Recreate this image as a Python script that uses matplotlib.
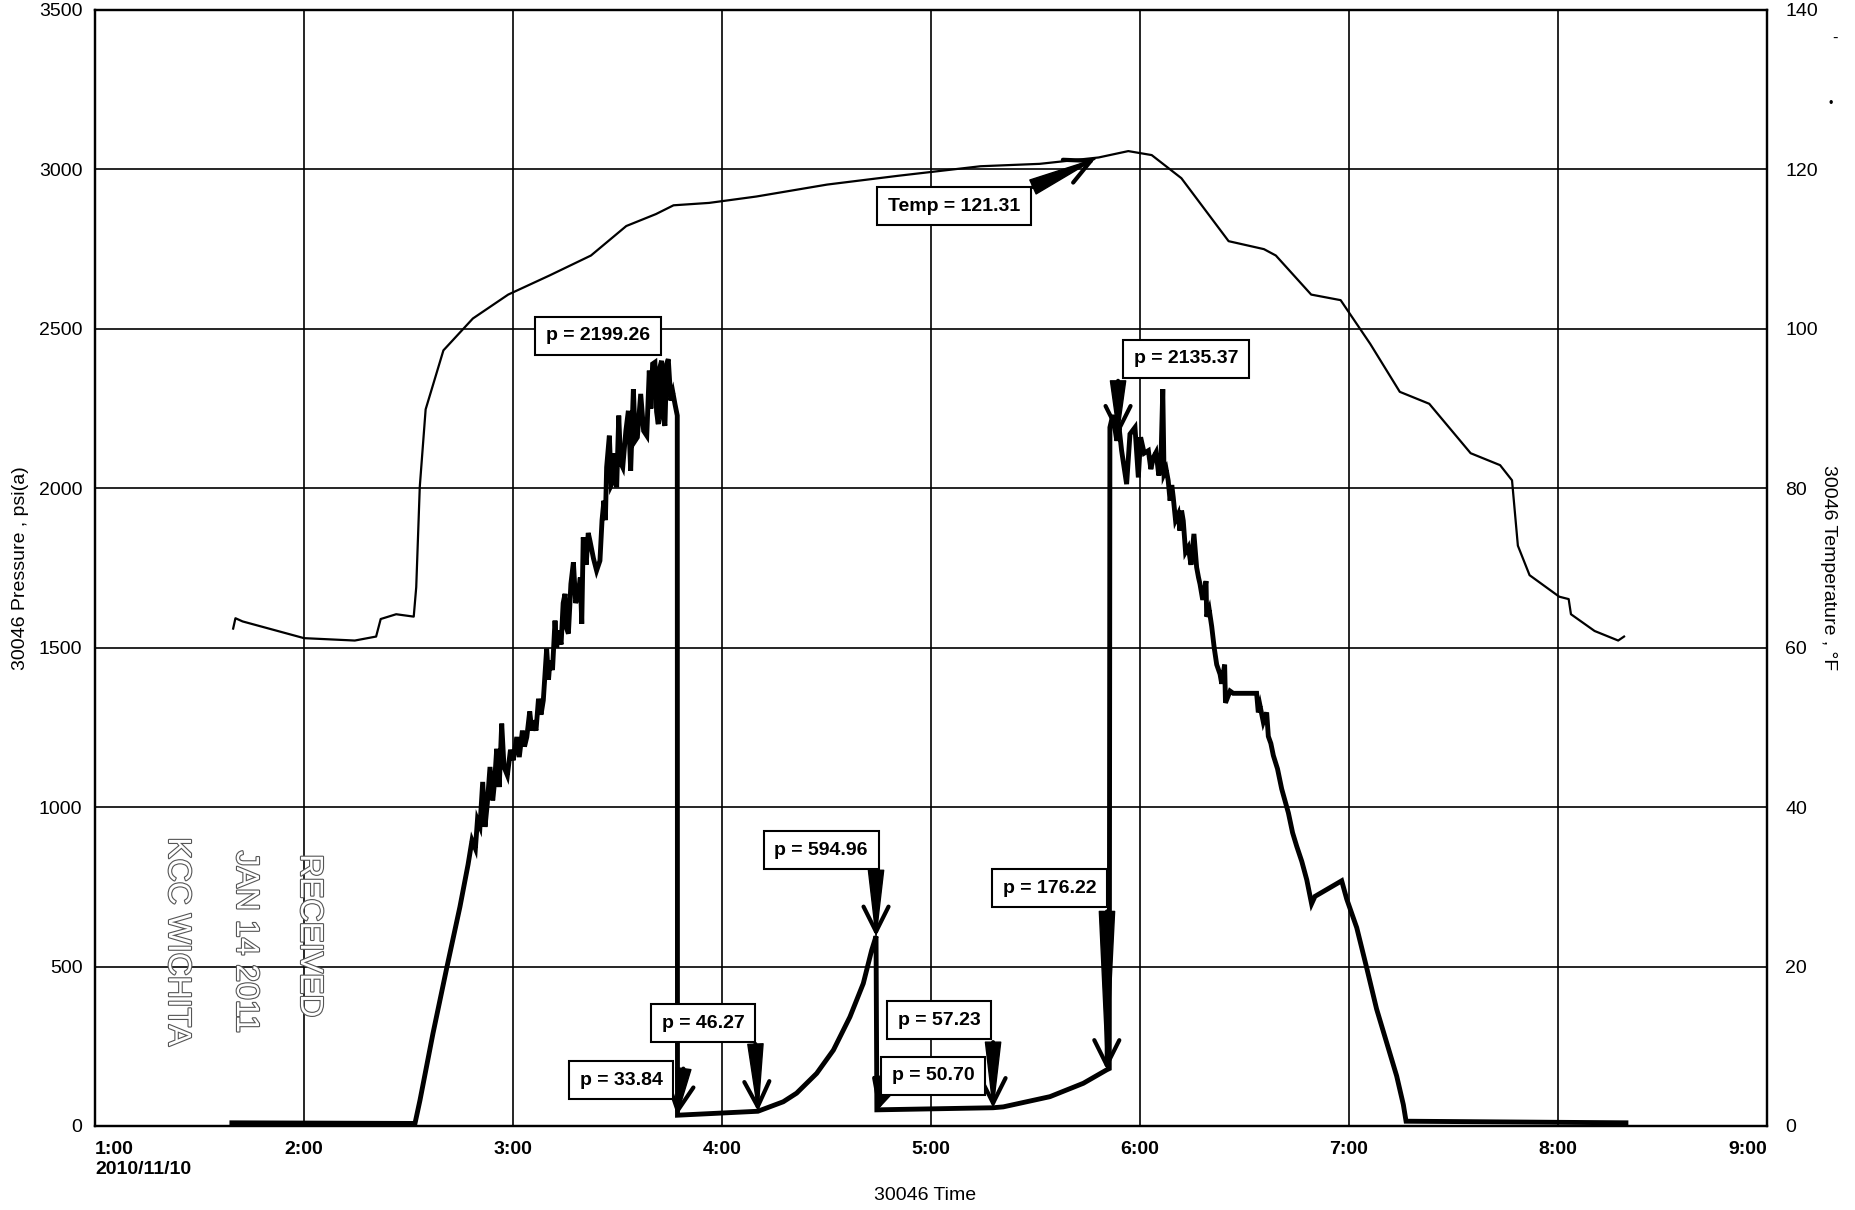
import matplotlib
matplotlib.use("Agg")
import matplotlib.pyplot as plt
import matplotlib.patheffects as pe
import numpy as np

plt.rcParams['font.family'] = ['Liberation Sans', 'DejaVu Sans']

# ---- data (time in hours of 2010/11/10) ----
# temperature, degF
temp_time = [1.661, 1.672, 1.706, 2.0, 2.243, 2.345, 2.367, 2.441, 2.525, 2.537,
             2.554, 2.582, 2.667, 2.808, 2.977, 3.175, 3.373, 3.542, 3.684, 3.768,
             3.938, 4.164, 4.503, 4.842, 5.237, 5.52, 5.802, 5.944, 6.056, 6.198,
             6.424, 6.593, 6.65, 6.819, 6.96, 7.102, 7.243, 7.384, 7.582, 7.723,
             7.78, 7.808, 7.864, 8.006, 8.051, 8.062, 8.175, 8.288, 8.316]
temp_val = [62.4, 63.7, 63.3, 61.2, 60.9, 61.4, 63.6, 64.2, 63.9, 67.6,
            80.2, 89.9, 97.3, 101.3, 104.3, 106.7, 109.2, 112.9, 114.4, 115.5,
            115.8, 116.6, 118.1, 119.2, 120.4, 120.7, 121.5, 122.3, 121.8, 118.9,
            111.0, 110.0, 109.2, 104.3, 103.6, 98.1, 92.1, 90.6, 84.4, 82.9,
            81.0, 72.8, 69.1, 66.4, 66.1, 64.2, 62.1, 60.9, 61.4]

# pressure, psi(a), read segment by segment
idle1_time = [1.655, 2.531]
idle1_psi = [10, 8]

build1_time = [2.555, 2.617, 2.684, 2.746, 2.785, 2.804, 2.820, 2.830, 2.842, 2.855,
               2.866, 2.877, 2.890, 2.903, 2.912, 2.922, 2.934, 2.946, 2.957, 2.973,
               2.988, 3.001, 3.018, 3.030, 3.045, 3.055, 3.066, 3.080, 3.090, 3.097,
               3.110, 3.122, 3.134, 3.145, 3.161, 3.170, 3.177, 3.189, 3.201, 3.209,
               3.217, 3.230, 3.240, 3.249, 3.257, 3.265, 3.277, 3.289, 3.300, 3.312,
               3.322, 3.329, 3.336, 3.350, 3.360, 3.368, 3.385, 3.400, 3.416, 3.426,
               3.435, 3.442, 3.448, 3.461, 3.470, 3.480, 3.488, 3.496, 3.506, 3.515,
               3.525, 3.540, 3.552, 3.563, 3.576, 3.585, 3.595, 3.611, 3.625, 3.640,
               3.652, 3.660, 3.668, 3.679, 3.687, 3.695, 3.703, 3.711, 3.719, 3.727,
               3.735, 3.743, 3.755, 3.765, 3.775, 3.786]
build1_psi = [81, 290, 499, 687, 820, 896, 870, 960, 940, 1079,
              938, 1011, 1126, 1021, 1080, 1183, 1063, 1262, 1126, 1100,
              1180, 1147, 1220, 1157, 1240, 1190, 1220, 1300, 1240, 1272,
              1240, 1340, 1290, 1335, 1497, 1400, 1460, 1430, 1585, 1500,
              1554, 1510, 1640, 1669, 1560, 1544, 1700, 1768, 1640, 1669,
              1720, 1575, 1846, 1760, 1860, 1836, 1780, 1742, 1773, 1900,
              1961, 1900, 2066, 2165, 2010, 2024, 2110, 2003, 2228, 2080,
              2066, 2180, 2243, 2055, 2311, 2150, 2160, 2296, 2180, 2165,
              2369, 2250, 2390, 2395, 2240, 2201, 2380, 2400, 2220, 2196,
              2390, 2405, 2275, 2300, 2264, 2228]

bleed1_time = [3.787, 4.172, 4.293, 4.357, 4.453, 4.533, 4.612, 4.676, 4.716, 4.737]
bleed1_psi = [33.84, 46.27, 76, 103, 165, 238, 342, 447, 551, 594.96]

bleed2_time = [4.741, 5.297, 5.346, 5.569, 5.729, 5.841]
bleed2_psi = [50.70, 57.23, 60, 92, 134, 176.22]

build2_time = [5.853, 5.856, 5.870, 5.889, 5.900, 5.912, 5.936, 5.952, 5.976, 5.992,
               6.003, 6.020, 6.040, 6.052, 6.064, 6.077, 6.090, 6.100, 6.109, 6.115,
               6.125, 6.135, 6.144, 6.152, 6.159, 6.170, 6.183, 6.191, 6.199, 6.207,
               6.218, 6.231, 6.244, 6.258, 6.271, 6.280, 6.287, 6.300, 6.316, 6.319,
               6.331, 6.343, 6.355, 6.367, 6.383, 6.391, 6.405, 6.409, 6.431, 6.446,
               6.558, 6.566, 6.574, 6.590, 6.606, 6.614, 6.626, 6.638, 6.658, 6.678,
               6.694, 6.710, 6.730, 6.750, 6.774, 6.798, 6.821, 6.837, 6.965, 6.989,
               7.037, 7.085, 7.132, 7.180, 7.228, 7.260, 7.273]
build2_psi = [180, 2191, 2230, 2149, 2190, 2118, 2013, 2170, 2191, 2034,
              2160, 2110, 2118, 2060, 2097, 2113, 2040, 2080, 2311, 2045,
              2060, 2024, 1961, 2010, 1972, 1900, 1919, 1867, 1930, 1898,
              1800, 1815, 1760, 1857, 1752, 1720, 1700, 1650, 1709, 1597,
              1620, 1567, 1500, 1447, 1417, 1387, 1447, 1327, 1364, 1357,
              1357, 1297, 1319, 1267, 1297, 1222, 1200, 1162, 1120, 1057,
              1020, 982, 920, 877, 830, 772, 697, 720, 769, 712,
              622, 495, 367, 262, 157, 67, 15]

idle2_time = [8.325]
idle2_psi = [10]

tick_hours = [1, 2, 3, 4, 5, 6, 7, 8, 9]
tick_labels = ['1:00\n2010/11/10', '2:00', '3:00', '4:00', '5:00', '6:00', '7:00', '8:00', '9:00']

# annotated readings
note_labels = ['p = 2199.26', 'p = 2135.37', 'p = 594.96', 'p = 176.22',
               'p = 46.27', 'p = 33.84', 'p = 57.23', 'p = 50.70']
note_tip_time = [None, 5.895, 4.737, 5.841, 4.172, 3.785, 5.297, 4.746]
note_tip_psi = [None, 2165, 594.96, 176.22, 46.27, 33.84, 57.23, 50.70]
temp_note_label = 'Temp = 121.31'
temp_note_time = 5.785
temp_note_val = 121.31

# ---- layout of the boxes (box centre and arrow start, data units) ----
note_box = [(3.407, 2478), (6.22, 2406), (4.474, 865), (5.569, 746),
            (3.909, 323), (3.517, 144), (5.038, 332), (5.01, 157)]
note_start = [None, (5.895, 2337), (4.737, 802), (5.842, 673),
              (4.160, 257), (3.815, 180), (5.297, 263), (4.790, 150)]

pres_time = idle1_time + build1_time + bleed1_time + bleed2_time + build2_time + idle2_time
pres_psi = idle1_psi + build1_psi + bleed1_psi + bleed2_psi + build2_psi + idle2_psi

W, H = 1856, 1210
fig = plt.figure(figsize=(W / 100, H / 100), dpi=100)
L, R, T, B = 95, 1767, 10, 1126
ax = fig.add_axes([L / W, 1 - B / H, (R - L) / W, (B - T) / H])
ax2 = ax.twinx()

ax.plot(pres_time, pres_psi, color='black', lw=3.5, solid_joinstyle='miter', zorder=3)
ax2.plot(temp_time, temp_val, color='black', lw=1.6, zorder=3)

ax.set_xlim(1, 9)
ax.set_ylim(0, 3500)
ax2.set_ylim(0, 140)
ax.set_yticks(np.arange(0, 3501, 500))
ax2.set_yticks(np.arange(0, 141, 20))
ax.set_xticks(tick_hours)
ax.set_xticklabels(tick_labels, fontsize=14, fontweight='bold')
xl = ax.get_xticklabels()
xl[0].set_ha('left')
xl[0].set_multialignment('left')
xl[-1].set_ha('right')
ax.tick_params(axis='y', length=0, labelsize=14, pad=9)
ax.tick_params(axis='x', length=0, pad=11)
ax2.tick_params(axis='y', length=0, labelsize=14, pad=13)
ax.grid(True, color='black', lw=1.2)
ax.set_axisbelow(True)
for a in (ax, ax2):
    for s in a.spines.values():
        s.set_linewidth(1.6)
        s.set_color('black')

fig.text(21 / W, 1 - 568 / H, '30046 Pressure , psi(a)', rotation=90,
         ha='center', va='center', fontsize=14)
fig.text(1829 / W, 1 - 568 / H, '30046 Temperature , \u00b0F', rotation=-90,
         ha='center', va='center', fontsize=14)
fig.text(925 / W, 1 - 1196 / H, '30046 Time', ha='center', va='center', fontsize=14)


def draw_arrow(axis, start, tip, trans):
    axis.annotate('', xy=tip, xytext=start, xycoords=trans, textcoords=trans,
                  arrowprops=dict(arrowstyle='wedge,tail_width=0.55,shrink_factor=0.5',
                                  fc='black', ec='black', shrinkA=0, shrinkB=0,
                                  mutation_scale=20), zorder=4)
    axis.annotate('', xy=tip, xytext=start, xycoords=trans, textcoords=trans,
                  arrowprops=dict(arrowstyle='->,head_length=0.9,head_width=0.45',
                                  color='black', lw=3, shrinkA=0, shrinkB=0,
                                  mutation_scale=20), zorder=4)


box_style = dict(boxstyle='square,pad=0.55', fc='white', ec='black', lw=1.5)
for i, lab in enumerate(note_labels):
    if note_start[i] is not None:
        draw_arrow(ax2, note_start[i], (note_tip_time[i], note_tip_psi[i]), ax.transData)
    ax2.text(note_box[i][0], note_box[i][1], lab, transform=ax.transData,
             ha='center', va='center', fontsize=14, fontweight='bold',
             bbox=box_style, zorder=5)

draw_arrow(ax2, (5.488, 117.8), (temp_note_time, temp_note_val), ax2.transData)
ax2.text(5.11, 115.4, temp_note_label, ha='center', va='center', fontsize=14,
         fontweight='bold', bbox=box_style, zorder=5)

# receiving stamp
stamp_fx = [pe.withStroke(linewidth=1.6, foreground='#555555')]
for txt, x, y in [('RECEIVED', 309, 936), ('JAN 14 2011', 245, 942), ('KCC WICHITA', 177, 942)]:
    t = fig.text(x / W, 1 - y / H, txt, rotation=-90, ha='center', va='center',
                 fontsize=23, color='white')
    t.set_path_effects(stamp_fx)

# specks from the scan
fig.text(1835 / W, 1 - 38 / H, '-', ha='center', va='center', fontsize=12)
fig.text(1831 / W, 1 - 104 / H, '\u2022', ha='center', va='center', fontsize=9)

fig.savefig('out.png', dpi=100)
